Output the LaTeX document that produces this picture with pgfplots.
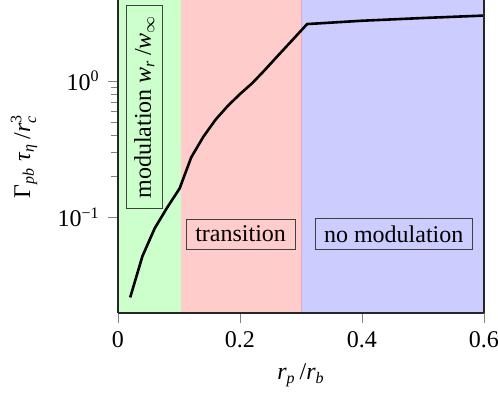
\documentclass[12pt,border=0pt]{standalone}
\usepackage{amsmath}
\usepackage{fontspec}
\setmainfont{Liberation Serif}
\usepackage{pgfplots}
\pgfplotsset{compat=1.18}

\newcommand{\vi}[1]{\textit{#1}}

\begin{document}
\begin{tikzpicture}
\begin{axis}[
  scale only axis,
  width=183pt, height=156.5pt,
  ymode=log,
  xmin=0, xmax=0.6, ymin=0.02, ymax=3.9,
  xtick={0,0.2,0.4,0.6},
  xticklabels={0,0.2,0.4,0.6},
  ytick={0.1,1},
  yticklabels={10\textsuperscript{−1},10\textsuperscript{0}},
  tick align=outside,
  xtick pos=left, ytick pos=left,
  axis x line*=bottom, axis y line*=box,
  axis line style={black!85, line width=0.6pt},
  major tick length=5pt, minor tick length=3.5pt,
  xlabel={$\vi{r}_{\vi{p}}\,\text{/}\vi{r}_{\vi{b}}$},
  ylabel={$\text{Γ}_{\vi{pb}}\;\vi{τ}_{\vi{η}}\,\text{/}\vi{r}_{\vi{c}}^{\text{3}}$},
  every axis y label/.append style={yshift=2pt},
  axis on top,
]
\coordinate (O) at (rel axis cs:0,0);
% regimes
\addplot[fill=green!20, draw=none] coordinates {(0,0.02) (0.103,0.02) (0.103,3.9) (0,3.9)} -- cycle;
\addplot[fill=red!20, draw=none] coordinates {(0.103,0.02) (0.301,0.02) (0.301,3.9) (0.103,3.9)} -- cycle;
\addplot[fill=blue!20, draw=none] coordinates {(0.301,0.02) (0.6,0.02) (0.6,3.9) (0.301,3.9)} -- cycle;
\addplot[draw=blue!30!red!35, line width=0.4pt] coordinates {(0.301,0.02) (0.301,3.9)};

% growth rate
\addplot[black, line width=1.3pt] coordinates {
  (0.02,0.026) (0.04,0.052) (0.06,0.083) (0.08,0.117) (0.101,0.163)
  (0.12,0.275) (0.14,0.39) (0.16,0.52) (0.18,0.655) (0.2,0.8)
  (0.22,0.96) (0.24,1.19) (0.26,1.49) (0.28,1.86) (0.31,2.6)
  (0.4,2.75) (0.5,2.88) (0.6,3.0)
};

\node[draw=black!75, rotate=90, inner xsep=5pt, inner ysep=4pt] at (axis cs:0.043,0.646) {modulation $\vi{w}_{\vi{r}}\,\text{/}\vi{w}_{\infty}$};
\node[draw=black!75, inner xsep=4.5pt, inner ysep=3.5pt] at (axis cs:0.201,0.0755) {transition};
\node[draw=black!75, inner xsep=4.5pt, inner ysep=3.5pt] at (axis cs:0.452,0.0755) {no modulation};
\end{axis}
\pgfresetboundingbox
\path (O) ++(-59pt,-40pt) rectangle ++(249pt,196.5pt);
\end{tikzpicture}
\end{document}
